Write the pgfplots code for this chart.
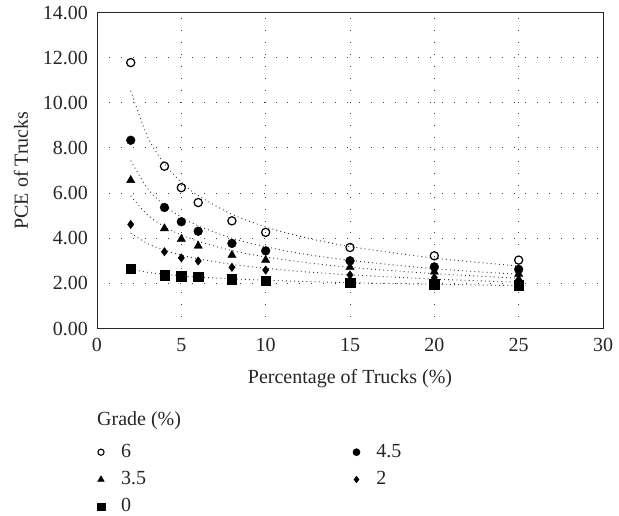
\documentclass[border=0pt]{standalone}
\usepackage{fontspec}
\setmainfont{Liberation Serif}
\usepackage{pgfplots}
\pgfplotsset{compat=1.18}
\newcommand{\bigf}{\fontsize{20bp}{24bp}\selectfont}
\begin{document}
\begin{tikzpicture}
\path[use as bounding box] (-97bp,-187.5bp) rectangle (522bp,328.5bp);
\begin{axis}[
  at={(0,0)}, anchor=origin,
  scale only axis, width=506bp, height=316bp,
  xmin=0, xmax=30, ymin=0, ymax=14,
  xtick={0,5,10,15,20,25,30},
  ytick={0,2,4,6,8,10,12,14},
  major tick length=0pt,
  axis line style={black!85, line width=0.9bp},
  grid=major,
  major grid style={black!75, line width=0.9bp, dash pattern=on 0.9bp off 11bp},
  /pgf/number format/assume math mode=true,
  tick label style={font=\bigf, text=black!85},
  yticklabel style={/pgf/number format/fixed, /pgf/number format/fixed zerofill, /pgf/number format/precision=2, anchor=east, inner sep=0pt, xshift=-9bp},
  xticklabel style={anchor=base, inner sep=0pt, yshift=-23.2bp},
  xlabel={Percentage of Trucks (\%)},
  ylabel={PCE of Trucks},
  label style={font=\bigf, text=black!85},
  xlabel style={at={(axis description cs:0.5,0)}, anchor=base, inner sep=0pt, yshift=-54.5bp},
  ylabel style={at={(axis description cs:0,0.5)}, anchor=center, inner sep=0pt, yshift=76bp},
  legend columns=2,
  legend cell align=left,
  legend style={draw=none, fill=none, font=\bigf, text=black!85,
    at={(axis description cs:0,0)}, anchor=north west, xshift=-3.1bp, yshift=-111.5bp,
    nodes={inner sep=0pt, text height=15bp, text depth=5bp},
    row sep=7.3bp, column sep=16.2bp,
    /tikz/column 2/.append style={text width=215.6bp, align=left}},
  clip=false,
]
% trend lines (power fits)
\pgfplotsset{trend/.style={black!80, line width=0.9bp, dash pattern=on 0.9bp off 3.2bp, smooth, forget plot, no marks}}
\addplot[trend] coordinates {(2,10.53) (3,8.49) (4,7.30) (5,6.48) (6,5.89) (8,5.06) (10,4.50) (12,4.09) (15,3.63) (20,3.12) (25,2.77)};
\addplot[trend] coordinates {(2,7.44) (3,6.20) (4,5.45) (5,4.93) (6,4.55) (8,4.00) (10,3.62) (12,3.33) (15,3.02) (20,2.65) (25,2.40)};
\addplot[trend] coordinates {(2,5.88) (3,5.03) (4,4.51) (5,4.14) (6,3.86) (8,3.45) (10,3.17) (12,2.96) (15,2.71) (20,2.43) (25,2.23)};
\addplot[trend] coordinates {(2,4.23) (3,3.76) (4,3.47) (5,3.25) (6,3.09) (8,2.84) (10,2.67) (12,2.53) (15,2.38) (20,2.19) (25,2.05)};
\addplot[trend] coordinates {(2,2.62) (3,2.49) (4,2.40) (5,2.33) (6,2.28) (8,2.20) (10,2.14) (12,2.09) (15,2.03) (20,1.96) (25,1.90)};
% data
\addplot[only marks, mark=o, mark size=4.1bp, mark options={line width=1.2bp, fill=white, draw=black},
  legend image post style={mark size=3.1bp, mark options={line width=1.1bp}}]
  coordinates {(2,11.78) (4,7.19) (5,6.24) (6,5.58) (8,4.77) (10,4.26) (15,3.59) (20,3.22) (25,3.03)};
\addlegendentry{6}
\addplot[only marks, mark=*, mark size=4.4bp, mark options={draw=black, fill=black},
  legend image post style={mark size=3.6bp}]
  coordinates {(2,8.34) (4,5.36) (5,4.73) (6,4.31) (8,3.77) (10,3.44) (15,3.00) (20,2.73) (25,2.62)};
\addlegendentry{4.5}
\addplot[only marks, mark=triangle*, mark size=4.8bp, mark options={draw=black, fill=black},
  legend image post style={mark size=3.8bp}]
  coordinates {(2,6.57) (4,4.43) (5,3.96) (6,3.66) (8,3.25) (10,3.03) (15,2.71) (20,2.51) (25,2.41)};
\addlegendentry{3.5}
\addplot[only marks, mark=diamond*, mark size=4.2bp, mark options={draw=black, fill=black},
  legend image post style={mark size=3.4bp}]
  coordinates {(2,4.61) (4,3.40) (5,3.13) (6,2.99) (8,2.71) (10,2.59) (15,2.37) (20,2.25) (25,2.17)};
\addlegendentry{2}
\addplot[only marks, mark=square*, mark size=4.7bp, mark options={draw=black, fill=black},
  legend image post style={mark size=3.9bp}]
  coordinates {(2,2.66) (4,2.37) (5,2.32) (6,2.29) (8,2.18) (10,2.12) (15,2.03) (20,1.97) (25,1.92)};
\addlegendentry{0}
\node[anchor=base west, inner sep=0pt, font=\bigf, text=black!85] at (axis description cs:0,0) [yshift=-97.2bp] {Grade (\%)};
\end{axis}
\end{tikzpicture}
\end{document}
